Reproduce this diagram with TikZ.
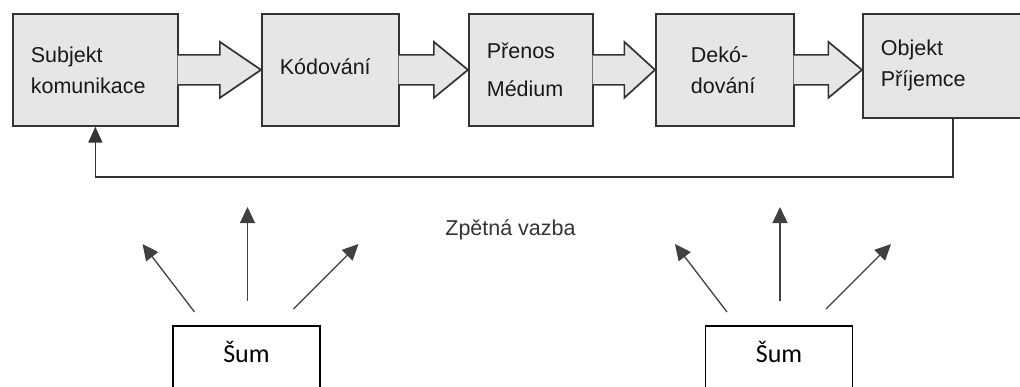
\documentclass[tikz,border=0pt]{standalone}
\usepackage{fontspec}
\setmainfont{Liberation Sans}
\newfontfamily\sumfont{Carlito}
\usetikzlibrary{calc, arrows.meta, positioning}
\definecolor{boxgray}{HTML}{E6E6E6}
\definecolor{linegray}{HTML}{333333}
\tikzset{
    x=1pt, y=1pt, % one unit is one pixel of the original
    box/.style={draw=linegray, fill=boxgray, line width=1.7pt, anchor=north west, align=left, text=black!90, inner xsep=18pt, minimum height=112pt, font=\fontsize{21.5}{31}\selectfont}, % grey process boxes
    blockarrow/.style={draw=linegray, fill=boxgray, line width=1.7pt, line join=miter}, % fat arrows between boxes
    feedback/.style={draw=linegray, line width=1.6pt, -{Triangle[length=16pt,width=14pt]}},
    noisebox/.style={draw=black, line width=1.7pt, anchor=north, minimum width=147pt, text height=20pt, text depth=40pt, inner ysep=17pt, font=\sumfont\fontsize{26}{30}\selectfont},
    noise/.style={draw=black!75, line width=1.3pt, -{Triangle[length=16pt,width=15pt]}},
}
\begin{document}
\begin{tikzpicture}
    \useasboundingbox (0,0) rectangle (1020,-386);
    \clip (0,0) rectangle (1020,-386);

    \node[box, text width=129pt] (subj) at (12,-13) {Subjekt\\komunikace};
    \node[box, text width=101pt, text depth=6pt] (kod) at (261,-13) {Kódování};
    \node[box, text width=88pt] (pren) at (468,-13) {Přenos\\[7pt]Médium};
    \node[box, inner xsep=35pt, text width=68pt] (dek) at (655,-13) {Dekó-\\dování};
    \node[box, text width=144pt, minimum height=104pt] (obj) at (862,-13) {Objekt\\Příjemce};

    % fat arrows from box to box
    \foreach \a/\b in {subj/kod, kod/pren, pren/dek, dek/obj}
        \filldraw[blockarrow] let \p1=(\a.east), \p2=(\b.west), \p3=($(\a.east)!0.5!(\b.west)$) in
            (\x1-1pt,\y1+15pt) -- (\x3,\y1+15pt) -- (\x3,\y1+28pt) -- (\x2,\y1)
            -- (\x3,\y1-28pt) -- (\x3,\y1-15pt) -- (\x1-1pt,\y1-15pt);

    % feedback loop
    \draw[feedback] (obj.south) -- ++(0,-58) -| (subj.south);
    \node[font=\fontsize{21.5}{26}\selectfont, text=linegray, anchor=base] (zpvazba) at (510.5,-235) {Zpětná vazba};

    % noise sources
    \node[noisebox] (suml) at (246.5,-325) {Šum};
    \node[noisebox] (sumr) at (779,-325) {Šum};
    \foreach \s in {suml, sumr}
        \foreach \n/\ax/\ay/\bx/\by in {l/-52/13/-104/81, m/1/24/1/118, r/47/16/112/81} {
            \coordinate (\s\n from) at ($(\s.north)+(\ax,\ay)$);
            \coordinate (\s\n to) at ($(\s.north)+(\bx,\by)$);
            \draw[noise] (\s\n from) -- (\s\n to);
        }
\end{tikzpicture}
\end{document}
